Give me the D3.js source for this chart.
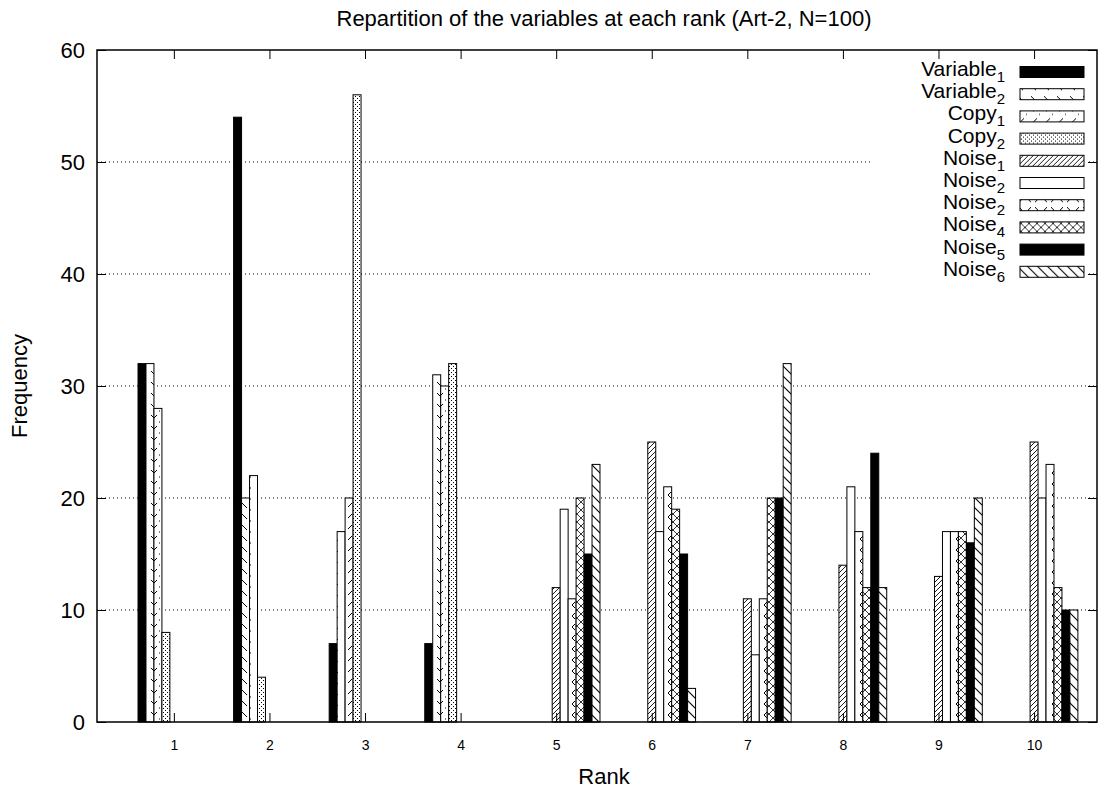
<!DOCTYPE html>
<html>
<head>
<meta charset="utf-8">
<script src="https://cdn.jsdelivr.net/npm/d3@7"></script>
<style>
  body { margin: 0; background: #fff; }
  text { font-family: "Liberation Sans", Arial, sans-serif; }
</style>
</head>
<body>
<div id="chart"></div>
<script>
// frequency of each variable at each rank, 100 runs

var ranks = [1, 2, 3, 4, 5, 6, 7, 8, 9, 10];
var yTicks = [0, 10, 20, 30, 40, 50, 60];
var gridTicks = [10, 20, 30, 40, 50];

var variable1 = [32, 54, 7, 7, 0, 0, 0, 0, 0, 0];
var variable2 = [32, 20, 17, 31, 0, 0, 0, 0, 0, 0];
var copy1     = [28, 22, 20, 30, 0, 0, 0, 0, 0, 0];
var copy2     = [8, 4, 56, 32, 0, 0, 0, 0, 0, 0];
var noise1    = [0, 0, 0, 0, 12, 25, 11, 14, 13, 25];
var noise2    = [0, 0, 0, 0, 19, 17, 6, 21, 17, 20];
var noise3    = [0, 0, 0, 0, 11, 21, 11, 17, 17, 23];
var noise4    = [0, 0, 0, 0, 20, 19, 20, 12, 17, 12];
var noise5    = [0, 0, 0, 0, 15, 15, 20, 24, 16, 10];
var noise6    = [0, 0, 0, 0, 23, 3, 32, 12, 20, 10];

// legend text as printed (the second "Noise2" is in the original)
var legendNames = ["Variable", "Variable", "Copy", "Copy", "Noise", "Noise", "Noise", "Noise", "Noise", "Noise"];
var legendSubs  = ["1", "2", "1", "2", "1", "2", "2", "4", "5", "6"];

var allValues = [variable1, variable2, copy1, copy2, noise1, noise2, noise3, noise4, noise5, noise6];
var fills = ["#000", "url(#pv2)", "url(#pc1)", "url(#pc2)", "url(#pn1)", "#fff",
             "url(#pn3)", "url(#pn4)", "#000", "url(#pn6)"];

var nBars = allValues.length,
    groupStep = nBars + 2;   // 2 bar widths of gap between groups

var margin = { top: 50, right: 12, bottom: 69, left: 97 },
    width = 1109 - margin.left - margin.right,
    height = 791 - margin.top - margin.bottom;

var x = d3.scaleLinear()
    .domain([-5.15, 120.4])
    .range([0, width]);

var y = d3.scaleLinear()
    .domain([0, 60])
    .range([height, 0]);

var svgRoot = d3.select("#chart").append("svg")
    .attr("width", 1109)
    .attr("height", 791);

var defs = svgRoot.append("defs");

function addPattern(id, w, h, d, sw) {
    var p = defs.append("pattern")
        .attr("id", id)
        .attr("patternUnits", "userSpaceOnUse")
        .attr("width", w)
        .attr("height", h);
    p.append("rect").attr("width", w).attr("height", h).attr("fill", "#fff");
    p.append("path").attr("d", d)
        .attr("fill", "none")
        .attr("stroke", "#000")
        .attr("stroke-width", sw || 1);
    return p;
}

addPattern("pv2", 13, 11, "M2,2 L7,7");
addPattern("pc1", 13, 11, "M8,2 L4,6 M10,9 L11,9");
addPattern("pc2", 4, 4, "M0,0.5 L1,0.5 M2,2.5 L3,2.5");
addPattern("pn1", 5, 5, "M0,5 L5,0 M-1,1 L1,-1 M4,6 L6,4", 0.9);
addPattern("pn3", 16, 11, "M2,2 L5,5 L2,8 M14,2 L11,5 L14,8");
addPattern("pn4", 8, 8, "M0,0 L8,8 M8,0 L0,8", 0.8);
addPattern("pn6", 10, 10, "M0,0 L10,10 M-2,8 L2,12 M8,-2 L12,2", 1.1);

var svg = svgRoot.append("g")
    .attr("transform", "translate(" + margin.left + "," + margin.top + ")");

// dotted grid
svg.selectAll(".grid")
    .data(gridTicks)
    .enter().append("line")
    .attr("class", "grid")
    .attr("x1", 0)
    .attr("x2", width)
    .attr("y1", function (d) { return y(d); })
    .attr("y2", function (d) { return y(d); })
    .attr("stroke", "#000")
    .attr("stroke-width", 1)
    .attr("stroke-dasharray", "1,3");

// one rect per (series, rank), zero bars are left out
var barData = [];
allValues.forEach(function (vals, i) {
    vals.forEach(function (v, g) {
        if (v > 0) barData.push({ s: i, g: g, v: v });
    });
});

var bw = x(1) - x(0);

svg.selectAll(".bar")
    .data(barData)
    .enter().append("rect")
    .attr("class", "bar")
    .attr("x", function (d) { return x(d.g * groupStep + d.s); })
    .attr("width", bw)
    .attr("y", function (d) { return y(d.v); })
    .attr("height", function (d) { return y(0) - y(d.v); })
    .attr("fill", function (d) { return fills[d.s]; })
    .attr("stroke", "#000")
    .attr("stroke-width", 1);

// legend, with a white backing that hides the grid
var legend = svg.append("g")
    .attr("transform", "translate(" + (873 - margin.left) + "," + (56 - margin.top) + ")");

legend.append("rect")
    .attr("width", 214)
    .attr("height", 229)
    .attr("fill", "#fff");

var rowH = 22.2;
var rows = legend.selectAll(".row")
    .data(legendNames)
    .enter().append("g")
    .attr("class", "row")
    .attr("transform", function (d, i) { return "translate(0," + (16 + i * rowH) + ")"; });

rows.append("rect")
    .attr("x", 147)
    .attr("y", -5.5)
    .attr("width", 64)
    .attr("height", 11)
    .attr("fill", function (d, i) { return fills[i]; })
    .attr("stroke", "#000")
    .attr("stroke-width", 1);

var lbl = rows.append("text")
    .attr("x", 132)
    .attr("y", 4)
    .attr("text-anchor", "end")
    .style("font-size", "21px");
lbl.append("tspan").text(function (d) { return d; });
lbl.append("tspan")
    .attr("dy", 6)
    .style("font-size", "15px")
    .text(function (d, i) { return legendSubs[i]; });

// axes, ticks pointing inward on all four sides
var xTickVals = ranks.map(function (r, g) { return g * groupStep + 4.5; });

var xBottom = svg.append("g")
    .attr("transform", "translate(0," + height + ")")
    .call(d3.axisBottom(x)
        .tickValues(xTickVals)
        .tickSize(-9)
        .tickPadding(18)
        .tickFormat(function (d, i) { return ranks[i]; }));
xBottom.selectAll("text").style("font-size", "14px").attr("fill", "#000");

svg.append("g")
    .call(d3.axisTop(x).tickValues(xTickVals).tickSize(-9).tickFormat(""));

var yLeft = svg.append("g")
    .call(d3.axisLeft(y).tickValues(yTicks).tickSize(-9).tickPadding(12));
yLeft.selectAll("text").style("font-size", "22px").attr("fill", "#000");

svg.append("g")
    .attr("transform", "translate(" + width + ",0)")
    .call(d3.axisRight(y).tickValues(yTicks).tickSize(-9).tickFormat(""));

svg.selectAll(".domain").remove();
svg.selectAll(".tick line").attr("stroke", "#000");

svg.append("rect")
    .attr("width", width)
    .attr("height", height)
    .attr("fill", "none")
    .attr("stroke", "#000")
    .attr("stroke-width", 1.5);

// titles
svgRoot.append("text")
    .attr("x", 604)
    .attr("y", 26)
    .attr("text-anchor", "middle")
    .style("font-size", "22px")
    .text("Repartition of the variables at each rank (Art-2, N=100)");

svgRoot.append("text")
    .attr("x", 604)
    .attr("y", 784)
    .attr("text-anchor", "middle")
    .style("font-size", "22px")
    .text("Rank");

svgRoot.append("text")
    .attr("transform", "translate(27,386) rotate(-90)")
    .attr("text-anchor", "middle")
    .style("font-size", "22px")
    .text("Frequency");
</script>
</body>
</html>
